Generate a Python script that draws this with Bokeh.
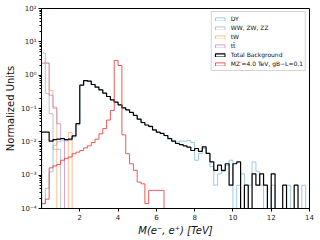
import numpy as np
from bokeh.plotting import figure
from bokeh.models import Range1d, FixedTicker, CustomJSTickFormatter, Legend, LegendItem
from bokeh.embed import file_html
from bokeh.resources import INLINE

# 70 bins of 0.2 TeV between 0 and 14 TeV
bin_width = 0.2
n_bins = 70

dy = [1.4e-4, 4.0e-4, 1.26e-3, 7.9e-3, 0.010, 0.0107, 0.0107, 0.0112, 0.0141, 0.032,
      0.49, 0.68, 0.66, 0.52, 0.44, 0.36, 0.29, 0.23, 0.18, 0.155,
      0.128, 0.104, 0.090, 0.075, 0.061, 0.048, 0.037, 0.031, 0.028, 0.022,
      0.019, 0.0175, 0.015, 0.0118, 0.011, 0.0098, 0.0105, 0.0105, 0.011, 0.0095,
      0.0028, 0.0045, 0.0063, 0.0045, 0.0018, 0.0005, 0.0011, 0.0013, 0.0020, 0.0028,
      0, 0.0005, 0.0011, 0, 0.0005, 0.0025, 0.0013, 0.0005, 0, 0,
      0.0005, 0, 0, 0, 0.0005, 0, 0, 0, 0.0005, 0]

diboson = [4.6, 0.28, 0.07, 0.006, 0.006] + [0] * 65

tw = [2.3, 2.3, 0.35, 0.10, 0, 0, 0, 0.019] + [0] * 62

ttbar = [2.3, 2.3, 0.25, 0.11, 0.035, 0.012] + [0] * 64

total = [1.95e-2, 1.95e-2, 1.05e-2, 1.17e-2, 1.2e-2, 1.26e-2, 1.17e-2, 1.2e-2, 1.5e-2, 3.5e-2,
         0.50, 0.69, 0.66, 0.525, 0.437, 0.363, 0.288, 0.229, 0.182, 0.155,
         0.129, 0.105, 0.091, 0.076, 0.062, 0.048, 0.038, 0.032, 0.029, 0.023,
         0.0195, 0.018, 0.0155, 0.0126, 0.0105, 0.0089, 0.0083, 0.0076, 0.0069, 0.0055,
         0.0063, 0.0052, 0.0071, 0.0045, 0.0025, 0.0014, 0.0020, 0.0014, 0.0022, 0.0005,
         0.0022, 0.0025, 0, 0.0005, 0, 0.0011, 0.0005, 0.0011, 0.0005, 0,
         0.0011, 0, 0, 0.0005, 0, 0, 0.0005, 0, 0, 0]

signal = [1.4e-4, 1.9e-4, 1.66e-3, 1.9e-3, 2.1e-3, 2.8e-3, 3.2e-3, 3.5e-3, 4.4e-3, 4.9e-3,
          5.5e-3, 6.6e-3, 7.6e-3, 9.5e-3, 0.012, 0.0174, 0.025, 0.045, 0.087, 2.75,
          1.95, 0.0162, 4.4e-3, 2.2e-3, 1.4e-3, 6.2e-4, 5.5e-4, 1.4e-4, 3.5e-4, 3.5e-4,
          3.5e-4, 3.5e-4] + [0] * 38

labels = ["DY", "WW, ZW, ZZ", "tW", "t\u0074\u0304", "Total Background",
          "MZ\u2032=4.0 TeV, gB\u2212L=0.1"]

colors = ["#6baed6", "#9a9a9a", "#fd8d3c", "#b068b8", "#000000", "#f03030"]
alphas = [0.65, 0.6, 0.55, 0.6, 1.0, 0.8]
widths = [1.0, 1.0, 1.0, 1.0, 1.2, 1.0]

x_ticks = [2, 4, 6, 8, 10, 12, 14]
y_decades = [1e-4, 1e-3, 1e-2, 1e-1, 1e0, 1e1, 1e2]

edges = np.arange(n_bins + 1) * bin_width
FLOOR = 1e-8


def step_xy(vals):
    v = np.asarray(vals, dtype=float)
    v = np.where(v > 0, v, FLOOR)
    xs = np.repeat(edges, 2)
    ys = np.concatenate([[FLOOR], np.repeat(v, 2), [FLOOR]])
    return xs, ys


FONT = "DejaVu Sans"

p = figure(width=320, height=240, x_range=Range1d(0, 14), y_range=Range1d(1e-4, 1e2),
           y_axis_type="log", output_backend="svg", toolbar_location=None,
           min_border_left=41, min_border_right=11, min_border_top=8, min_border_bottom=32)
p.xgrid.visible = False
p.ygrid.visible = False
p.outline_line_color = "black"
p.outline_line_alpha = 1.0
p.background_fill_color = "white"
p.border_fill_color = "white"

series = [dy, diboson, tw, ttbar, total, signal]
nan = [float("nan")]
legend_items = []
for vals, lab, c, a, w in zip(series, labels, colors, alphas, widths):
    xs, ys = step_xy(vals)
    p.line(xs, ys, line_color=c, line_alpha=a, line_width=w)
    r = p.quad(left=nan, right=nan, top=nan, bottom=nan, fill_alpha=0,
               line_color=c, line_alpha=a, line_width=w)
    legend_items.append(LegendItem(label=lab, renderers=[r]))

# axes
p.xaxis.ticker = FixedTicker(ticks=x_ticks)
p.yaxis.ticker = FixedTicker(ticks=y_decades,
                             minor_ticks=[m * d for d in y_decades[:-1] for m in range(2, 10)])
for ax in (p.xaxis, p.yaxis):
    ax.axis_line_color = "black"
    ax.major_tick_line_color = "black"
    ax.major_tick_in = 0
    ax.major_tick_out = 3
    ax.minor_tick_in = 0
    ax.minor_tick_out = 2
    ax.major_label_text_font = FONT
    ax.major_label_text_font_size = "7px"
    ax.major_label_text_color = "#222222"
    ax.major_label_standoff = 2
    ax.axis_label_text_font = FONT
    ax.axis_label_text_font_size = "10px"
    ax.axis_label_text_color = "#111111"
    ax.axis_label_standoff = 2
p.xaxis.minor_tick_line_color = None
p.yaxis.minor_tick_line_color = "black"

p.yaxis.formatter = CustomJSTickFormatter(code="""
const e = Math.round(Math.log10(tick));
const m = {"-": "\u207b", "0": "\u2070", "1": "\u00b9", "2": "\u00b2", "3": "\u00b3",
           "4": "\u2074", "5": "\u2075", "6": "\u2076", "7": "\u2077", "8": "\u2078", "9": "\u2079"};
let s = "";
for (const c of String(e)) { s += m[c]; }
return "10" + s;
""")
p.xaxis.axis_label = "M(e\u207b, e\u207a) [TeV]"
p.xaxis.axis_label_text_font_style = "italic"
p.yaxis.axis_label = "Normalized Units"
p.yaxis.axis_label_text_font_style = "normal"

legend = Legend(items=legend_items, location="top_right")
legend.margin = 3
legend.padding = 2
legend.spacing = 0
legend.label_height = 9
legend.glyph_height = 4
legend.glyph_width = 12
legend.label_standoff = 5
legend.label_text_font = FONT
legend.label_text_font_size = "6px"
legend.label_text_color = "#111111"
legend.border_line_color = "#aaaaaa"
legend.border_line_width = 1
legend.background_fill_color = "white"
legend.background_fill_alpha = 1.0
p.add_layout(legend)

open("out.html", "w").write(file_html(p, INLINE))
